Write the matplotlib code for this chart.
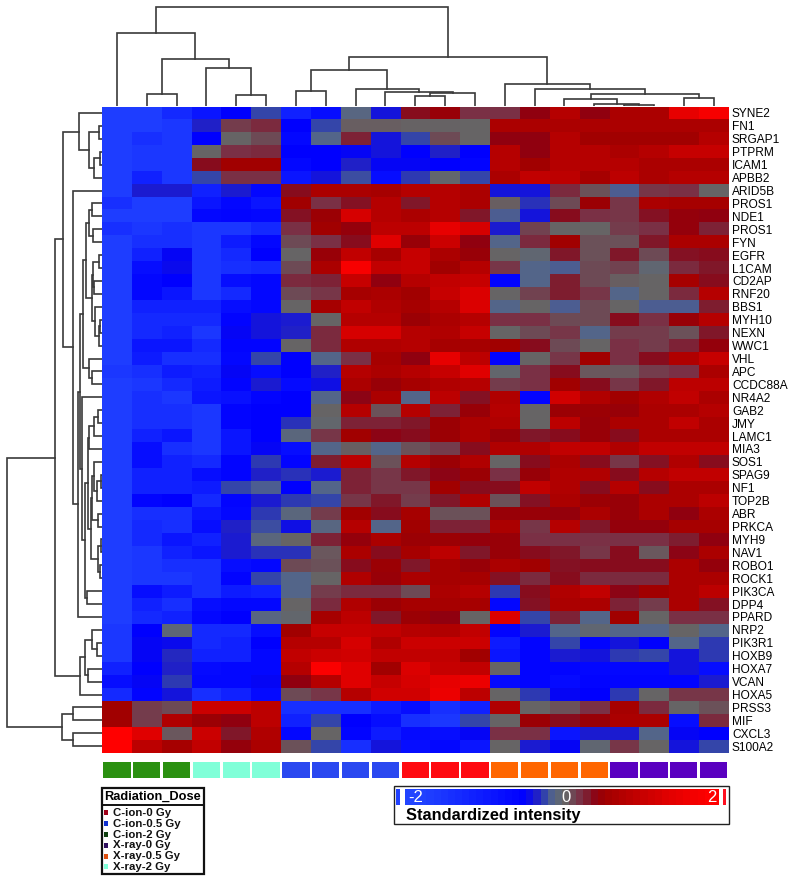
import numpy as np
import matplotlib
matplotlib.use('Agg')
import matplotlib.pyplot as plt
from matplotlib.colors import LinearSegmentedColormap
from matplotlib.patches import Rectangle

plt.rcParams['font.family'] = ['Liberation Sans', 'DejaVu Sans']

genes = ['SYNE2', 'FN1', 'SRGAP1', 'PTPRM', 'ICAM1', 'APBB2', 'ARID5B', 'PROS1', 'NDE1', 'PROS1',
         'FYN', 'EGFR', 'L1CAM', 'CD2AP', 'RNF20', 'BBS1', 'MYH10', 'NEXN', 'WWC1', 'VHL',
         'APC', 'CCDC88A', 'NR4A2', 'GAB2', 'JMY', 'LAMC1', 'MIA3', 'SOS1', 'SPAG9', 'NF1',
         'TOP2B', 'ABR', 'PRKCA', 'MYH9', 'NAV1', 'ROBO1', 'ROCK1', 'PIK3CA', 'DPP4', 'PPARD',
         'NRP2', 'PIK3R1', 'HOXB9', 'HOXA7', 'VCAN', 'HOXA5', 'PRSS3', 'MIF', 'CXCL3', 'S100A2']

# Dose group of each column, left to right.
col_groups = ['C-ion-2 Gy'] * 3 + ['X-ray-2 Gy'] * 3 + ['C-ion-0.5 Gy'] * 4 + \
             ['C-ion-0 Gy'] * 3 + ['X-ray-0.5 Gy'] * 4 + ['X-ray-0 Gy'] * 4

strip_colors = {'C-ion-0 Gy': '#ff0a10', 'C-ion-0.5 Gy': '#2a48f0', 'C-ion-2 Gy': '#2a9010',
                'X-ray-0 Gy': '#5a00c0', 'X-ray-0.5 Gy': '#ff6600', 'X-ray-2 Gy': '#80ffd8'}

legend_names = ['C-ion-0 Gy', 'C-ion-0.5 Gy', 'C-ion-2 Gy', 'X-ray-0 Gy', 'X-ray-0.5 Gy', 'X-ray-2 Gy']
legend_dots = ['#a00018', '#1030d0', '#104010', '#301060', '#e05010', '#80ffd8']

# Values, one row per gene.
intensity = [
    [-1.9, -1.9, -1.6, -1.3, -1.0, -0.5, -1.5, -1.2, -0.25, -0.8, 0.7, 0.9, 0.4, 0.4, 0.8, 1.2, 0.8, 1.1, 1.1, 1.7, 1.9],
    [-1.9, -1.9, -1.8, -0.7, 0.3, 0.45, -1.0, -0.5, 0.05, 0.05, 0.02, 0.02, 0.0, 1.1, 1.1, 1.1, 1.1, 1.1, 1.1, 1.1, 1.1],
    [-1.9, -1.7, -1.8, -1.0, 0.0, 0.2, -1.1, -0.3, 0.5, -0.8, -0.5, 0.2, 0.0, 0.8, 0.8, 1.2, 1.0, 1.0, 1.0, 1.0, 1.2],
    [-1.9, -1.8, -1.8, 0.0, 0.4, 0.45, -1.0, -1.0, -0.95, -0.8, -1.0, -0.7, -1.0, 1.2, 0.8, 1.2, 1.2, 1.1, 1.2, 1.35, 1.35],
    [-1.9, -1.8, -1.8, 0.7, 1.0, 1.0, -1.1, -1.0, -0.7, -0.95, -0.95, -1.0, -1.05, 1.2, 1.0, 1.2, 1.2, 1.2, 1.1, 1.1, 1.1],
    [-1.9, -1.5, -1.8, -0.5, 0.4, 0.4, -1.3, -0.8, -0.45, -1.2, -0.55, -0.05, -0.5, 1.1, 1.3, 1.25, 1.05, 1.25, 1.1, 1.2, 1.2],
    [-1.9, -0.75, -0.75, -1.5, -0.75, -1.1, 0.7, 1.1, 1.1, 1.05, 1.2, 1.2, 1.1, -0.8, -0.8, 0.45, 0.15, -0.35, 0.35, 0.4, 0.0],
    [-1.7, -1.9, -1.9, -1.3, -1.1, -1.3, 1.0, 0.4, 0.65, 1.2, 0.6, 1.2, 1.1, 0.05, -0.6, 0.2, 0.95, 0.35, 1.1, 1.05, 1.05],
    [-1.9, -1.9, -1.9, -1.1, -1.05, -1.1, 0.65, 0.95, 1.5, 1.2, 1.1, 1.2, 0.6, -0.35, -0.8, 0.7, 0.4, 0.35, 0.65, 0.85, 0.8],
    [-1.7, -1.8, -1.7, -1.8, -1.8, -1.6, 0.4, 1.0, 0.85, 1.25, 1.25, 1.7, 1.5, -0.75, 0.25, 0.0, 0.0, 0.3, 0.4, 0.85, 0.5],
    [-1.9, -1.7, -1.7, -1.8, -1.4, -1.1, 0.2, 0.4, 0.7, 1.6, 0.9, 1.4, 0.8, -0.3, 0.45, 1.0, 0.15, 0.15, 0.6, 1.1, 1.1],
    [-1.9, -1.5, -0.95, -1.8, -1.6, -1.0, 0.0, 0.9, 1.3, 1.05, 1.35, 1.1, 0.9, 0.0, -0.1, 0.6, 0.15, 0.6, 0.2, 0.65, 0.7],
    [-1.9, -1.2, -0.9, -1.8, -1.7, -1.6, 0.2, 1.1, 1.9, 1.3, 1.35, 1.0, 1.2, 0.35, -0.3, -0.35, 0.2, 0.25, -0.1, 0.45, 0.6],
    [-1.9, -1.1, -1.0, -1.8, -1.2, -1.1, 0.45, 0.5, 1.35, 0.8, 1.2, 1.3, 1.35, -1.05, -0.3, 0.55, 0.2, 0.05, 0.0, 1.05, 0.7],
    [-1.9, -1.1, -1.3, -1.8, -1.6, -1.1, 0.2, 0.35, 1.05, 1.1, 1.0, 1.35, 1.55, 0.0, 0.25, 0.55, 0.35, -0.3, 0.0, 0.45, 1.2],
    [-1.9, -1.5, -1.5, -1.5, -1.2, -1.1, 0.0, 1.05, 1.3, 1.15, 1.05, 1.2, 1.55, -0.3, 0.0, -0.35, 0.2, 0.0, -0.35, -0.35, 0.55],
    [-1.9, -1.6, -1.6, -1.6, -1.05, -0.8, -0.75, 0.0, 1.2, 1.2, 0.95, 1.1, 1.2, 0.4, 0.4, 0.2, 0.2, 0.7, 0.4, 0.9, 1.2],
    [-1.9, -1.6, -1.5, -1.8, -0.95, -0.8, -0.7, 0.45, 1.5, 1.5, 1.2, 1.15, 1.35, 0.0, 0.2, 0.35, -0.3, 0.3, 0.3, 0.15, 0.6],
    [-1.9, -1.3, -1.3, -1.6, -1.05, -1.05, 0.0, 0.45, 1.15, 1.15, 1.2, 1.05, 1.05, 1.0, 0.7, 0.2, 0.0, 0.4, 0.3, 0.5, 0.85],
    [-1.9, -1.4, -1.7, -1.7, -1.1, -0.5, -1.0, -0.3, 0.4, 1.05, 0.8, 1.7, 1.25, -1.05, 0.0, 0.35, 1.0, 0.4, 0.7, 1.15, 1.35],
    [-1.8, -1.7, -1.4, -1.5, -0.95, -1.2, -1.0, -0.7, 1.2, 1.1, 1.2, 1.35, 1.6, -0.05, 0.4, 0.7, 0.1, 0.1, 0.3, 0.4, 1.1],
    [-1.9, -1.8, -1.6, -1.4, -1.05, -0.75, -1.15, -0.85, 1.1, 0.9, 1.05, 1.15, 1.2, 0.3, 0.4, 1.0, 0.7, 0.35, 0.6, 1.25, 1.25],
    [-1.9, -1.7, -1.8, -1.3, -1.25, -1.05, -1.0, -0.3, 0.75, 1.1, -0.3, 1.25, 0.65, 1.15, -1.05, 1.45, 1.15, 1.0, 1.15, 1.3, 1.1],
    [-1.9, -1.7, -1.7, -1.8, -1.05, -1.0, -1.0, 0.0, 1.2, 0.15, 1.2, 0.5, 0.9, 1.2, 0.0, 0.95, 0.95, 0.9, 1.1, 1.1, 1.2],
    [-1.9, -1.7, -1.7, -1.8, -1.05, -1.0, -0.6, -0.05, 0.5, 0.5, 0.6, 0.95, 1.1, 1.15, 0.0, 1.25, 0.9, 1.1, 1.1, 1.3, 1.1],
    [-1.9, -1.5, -1.3, -1.8, -1.3, -1.0, -0.2, 0.35, 1.0, 0.75, 0.7, 0.95, 1.1, 0.9, 0.6, 0.7, 0.9, 0.7, 1.1, 1.1, 1.1],
    [-1.9, -1.2, -1.7, -1.8, -1.3, -0.95, -1.2, -0.3, 0.05, -0.3, 0.15, 0.3, 0.7, 1.15, 1.15, 1.3, 1.3, 1.15, 1.3, 1.3, 1.3],
    [-1.9, -1.2, -1.5, -1.6, -1.05, -0.55, -1.05, 0.55, 1.25, 0.15, 1.2, 0.95, 1.15, 0.0, 0.7, 1.1, 0.7, 0.35, 0.65, 1.15, 0.7],
    [-1.9, -1.5, -1.5, -1.2, -1.05, -0.7, -0.6, -0.75, 0.5, 0.35, 0.6, 0.75, 0.95, 0.4, 0.9, 1.15, 1.15, 0.7, 1.2, 1.3, 1.3],
    [-1.9, -1.5, -1.5, -1.4, -0.5, -0.35, -1.0, -0.3, 0.5, 0.35, 0.35, 1.0, 0.7, 0.7, 1.3, 1.15, 0.7, 1.2, 0.7, 1.1, 1.1],
    [-1.9, -1.05, -1.0, -1.6, -1.05, -0.75, -0.55, -0.5, 0.35, 0.6, 0.3, 0.6, 1.15, 0.15, 0.65, 1.1, 0.95, 0.9, 1.1, 1.1, 1.25],
    [-1.9, -1.7, -1.7, -1.3, -1.1, -0.55, -0.2, 0.3, 1.0, 0.7, 1.05, 0.15, 0.15, 0.9, 0.9, 0.85, 1.1, 0.9, 1.1, 0.8, 1.1],
    [-1.9, -1.6, -1.7, -1.2, -0.7, -0.45, -0.85, -0.25, 1.2, -0.3, 1.0, 0.5, 0.5, 1.1, 0.35, 1.2, 0.6, 0.85, 0.85, 1.05, 1.05],
    [-1.9, -1.6, -1.3, -1.5, -0.75, -0.2, 0.0, 0.5, 0.85, 1.1, 0.95, 0.95, 0.85, 0.9, 0.4, 0.4, 0.4, 0.4, 0.4, 0.55, 0.8],
    [-1.9, -1.8, -1.5, -1.3, -0.75, -0.6, -0.6, 0.1, 1.1, 0.7, 1.05, 1.25, 0.6, 0.9, 0.7, 0.6, 0.35, 0.7, 0.1, 0.75, 1.1],
    [-1.9, -1.8, -1.7, -1.7, -1.2, -1.1, 0.2, 0.15, 0.7, 0.95, 0.6, 1.05, 0.9, 1.1, 1.0, 0.65, 0.7, 0.7, 0.7, 1.1, 0.85],
    [-1.9, -1.8, -1.8, -1.7, -1.05, -0.5, -0.3, 0.0, 1.15, 0.9, 1.1, 1.05, 1.05, 0.65, 0.45, 0.7, 0.45, 0.45, 0.45, 1.1, 1.1],
    [-1.9, -1.2, -1.4, -1.7, -1.4, -1.5, -0.3, 0.3, 0.45, 0.45, 0.2, 1.1, 1.2, -0.55, 0.7, 1.15, 1.3, 0.75, 1.0, 1.1, 1.25],
    [-1.9, -1.5, -1.7, -1.2, -1.1, -1.1, 0.0, 0.45, 1.15, 0.95, 1.05, 1.05, 1.05, -1.1, 0.65, 1.1, 1.1, 0.5, 0.3, 1.1, 0.65],
    [-1.9, -1.6, -1.5, -1.1, -1.0, -0.25, -0.05, 1.05, 1.25, 0.6, 0.95, 0.8, 0.0, 1.55, -0.5, 0.5, -0.3, 1.0, 0.0, 0.4, 0.4],
    [-1.8, -1.0, -0.15, -1.6, -1.6, -1.2, 1.0, 1.35, 1.35, 1.3, 1.2, 1.15, 1.3, -1.05, -0.75, -0.3, -0.1, -0.3, -0.3, 0.0, -0.3],
    [-1.8, -0.95, -0.9, -1.6, -1.5, -1.0, 1.2, 1.2, 1.5, 1.15, 1.4, 1.4, 1.4, -1.4, -1.05, -0.5, -1.05, -0.8, -1.0, -0.3, -0.55],
    [-1.8, -0.95, -0.65, -1.5, -1.5, -1.1, 1.3, 1.4, 1.45, 1.3, 1.3, 1.3, 1.0, -1.3, -1.05, -0.75, -0.8, -0.55, -0.5, -0.8, -0.55],
    [-1.5, -1.0, -0.7, -1.15, -1.1, -1.1, 1.2, 1.95, 1.6, 1.0, 1.55, 1.35, 1.3, 0.0, -1.05, -1.05, -1.1, -1.1, -1.1, -0.8, -1.2],
    [-1.2, -0.95, -0.55, -1.1, -1.1, -0.95, 0.8, 1.2, 1.6, 1.35, 1.5, 1.7, 1.75, -1.15, -1.05, -1.15, -1.05, -1.05, -1.05, -1.05, -0.75],
    [-1.6, -1.05, -0.8, -1.7, -1.5, -1.15, 0.2, 0.35, 1.2, 1.45, 1.45, 1.75, 1.25, 0.0, -0.55, -0.95, -1.0, -0.55, 0.0, 0.35, 0.35],
    [1.0, 0.3, 0.2, 1.4, 1.4, 1.25, -1.7, -1.7, -1.7, -1.4, -1.2, -1.7, -1.5, 1.15, 0.0, 0.15, 0.4, 1.05, 0.45, 0.0, 0.15],
    [1.0, 0.3, 1.15, 0.95, 0.8, 1.25, -1.5, -0.5, -1.0, -1.2, -1.7, -1.8, -0.5, 0.0, 0.95, 0.7, 0.9, 1.1, 1.1, -1.2, 0.45],
    [2.0, 1.6, 0.1, 1.4, 0.6, 1.15, -1.1, 0.0, -1.05, -1.4, -1.15, -1.2, -0.95, 0.4, 0.4, -1.3, -0.75, -0.75, -0.3, -0.95, -1.0],
    [2.0, 1.25, 1.05, 1.3, 0.85, 1.1, 0.15, -0.5, -1.7, -0.8, -1.2, -1.1, -1.3, 0.0, -0.75, -0.95, -0.1, 0.35, 0.0, -0.8, -0.5],
]

# Clustering trees: (merge height, first child, second child), ints are leaves.
col_tree = (99,
            (73.8, 0, (47.2, (12.2, 1, 2), (38.5, 3, (11.5, 4, 5)))),
            (49.8,
             (36.8, (15.8, 6, 7),
              (17.8, 8, (14.5, 9, (13.8, (10.5, 10, 11), 12)))),
             (22.5, 13,
              (17.2, 14,
               (12.5, (7.2, 15, (2.8, 16, (1.8, 17, 18))), (8.2, 19, 20))))))

rows_a = (23, 0, (13, (3.3, 1, 2), (7.7, (2, 3, 4), 5)))
rows_g = (18.7,
          (16,
           (12.7, (9.7, 7, 8), (8.7, 9, 10)),
           (10.3,
            (8.7, (3, 11, 12), (8, 13, 14)),
            (7, 15, (3.3, (1.7, 16, 17), 18)))),
          (12.7, 19, (9.7, 20, 21)))
rows_k = (12.7, (7.7, (4.3, 23, 24), 25), 26)
rows_r = (9.7, (8, 27, (5.3, (1, 28, 29), 30)), (3.7, 31, 32))
rows_s = (3.7, (1, 33, 34), (2, 35, 36))
rows_i = (17, (13.7, rows_k, (11.3, rows_r, rows_s)), (14.7, 37, 38))
rows_f = (22, rows_g, (20.3, 22, rows_i))
rows_d = (28.7, 6, (24, rows_f, 39))
rows_c = (22, (17, (10.3, 40, (5.3, 41, 42)), (14.3, 43, 44)), 45)
row_tree = (95.3,
            (47, (38.7, rows_a, rows_d), rows_c),
            (40.3, (28.7, 46, 47), (28.7, 48, 49)))

W, H = 793, 880
map_left, map_right, map_top, map_bottom = 102, 728.5, 106.5, 752.7
line_col = '#3a3a3a'


# Axes from pixel box measured on the picture (y from the top).
def px_axes(fig, x0, y0, x1, y1):
    return fig.add_axes([x0 / W, 1 - y1 / H, (x1 - x0) / W, (y1 - y0) / H])


# Walks the tree and draws the brackets, returns leaf position and height.
def draw_tree(ax, node, vertical):
    if isinstance(node, int):
        return node + 0.5, 0
    h, a, b = node
    pa, ha = draw_tree(ax, a, vertical)
    pb, hb = draw_tree(ax, b, vertical)
    pos = [pa, pa, pb, pb]
    hts = [ha, h, h, hb]
    if vertical:
        ax.plot(pos, hts, color=line_col, lw=1.2, solid_joinstyle='miter')
    else:
        ax.plot(hts, pos, color=line_col, lw=1.2, solid_joinstyle='miter')
    return (pa + pb) / 2, h


fig = plt.figure(figsize=(W / 100, H / 100), dpi=100)

# Colour scale: light blue at the low end, grey middle, red at the top.
cmap = LinearSegmentedColormap.from_list('intensity', [
    (0.0, '#2244ff'), (0.25, '#0000ff'), (0.325, '#2020c8'), (0.375, '#3344aa'), (0.425, '#556688'),
    (0.5, '#666666'), (0.55, '#6e4a55'), (0.6, '#7a3045'), (0.65, '#80182a'), (0.7, '#900010'),
    (0.75, '#a00000'), (0.825, '#c00000'), (0.9, '#e00000'), (1.0, '#ff0000')])

# Main heatmap
ax_map = px_axes(fig, map_left, map_top, map_right, map_bottom)
ax_map.imshow(np.array(intensity), cmap=cmap, vmin=-2, vmax=2, aspect='auto',
              interpolation='nearest', extent=[0, 21, 50, 0])
ax_map.set_xticks([])
ax_map.yaxis.tick_right()
ax_map.set_yticks(np.arange(len(genes)) + 0.5)
ax_map.set_yticklabels(genes, fontsize=8.6)
ax_map.tick_params(axis='y', length=0, pad=2.5)
for s in ax_map.spines.values():
    s.set_visible(False)

# Dendrograms
ax_top = px_axes(fig, map_left, 0, map_right, map_top)
ax_top.set_xlim(0, 21)
ax_top.set_ylim(0, map_top)
draw_tree(ax_top, col_tree, True)
ax_top.axis('off')

ax_left = px_axes(fig, 0, map_top, map_left, map_bottom)
ax_left.set_xlim(map_left, 0)
ax_left.set_ylim(50, 0)
draw_tree(ax_left, row_tree, False)
ax_left.axis('off')

# Dose strip under the heatmap
ax_strip = px_axes(fig, map_left, 762, map_right, 778)
ax_strip.bar(np.arange(21) + 0.5, 1, width=0.92, color=[strip_colors[g] for g in col_groups])
ax_strip.set_xlim(0, 21)
ax_strip.set_ylim(0, 1)
ax_strip.axis('off')

# Overlay in pixel units for the two legend boxes
ov = fig.add_axes([0, 0, 1, 1], zorder=5)
ov.set_xlim(0, W)
ov.set_ylim(H, 0)
ov.axis('off')

ov.add_patch(Rectangle((101.5, 788), 102.5, 86, fill=False, ec='#111111', lw=1.6))
ov.plot([101.5, 204], [805, 805], color='#111111', lw=1.4)
ov.text(152.7, 796.5, 'Radiation_Dose', fontsize=9.2, fontweight='bold', ha='center', va='center')
for i, name in enumerate(legend_names):
    y = 813 + i * 10.8
    ov.add_patch(Rectangle((103.8, y - 2.5), 4, 5, fc=legend_dots[i], ec='none'))
    ov.text(112.7, y, name, fontsize=8.2, fontweight='bold', ha='left', va='center', color='#111111')

# Standardized intensity key
ov.add_patch(Rectangle((394, 785.7), 335, 38.3, fill=False, ec='#222222', lw=1.0))
ax_bar = px_axes(fig, 404.7, 789.3, 718, 805)
ax_bar.set_zorder(6)
# The key is stretched: its blue ends near -0.55 and dark red starts near 0.55.
bar_steps = np.interp(np.linspace(-2.15, 2.08, 44), [-2, -0.55, 0, 0.55, 2], [-2, -1, 0, 1, 2])
ax_bar.imshow(bar_steps[np.newaxis, :], cmap=cmap, vmin=-2, vmax=2, aspect='auto', interpolation='nearest')
ax_bar.axis('off')
ov.add_patch(Rectangle((396, 789.3), 4, 15.7, fc='#2040ff', ec='none'))
ov.add_patch(Rectangle((723, 789.3), 3, 15.7, fc='#ff1020', ec='none'))
ov.set_zorder(7)
ov.text(416, 797.5, '-2', color='white', fontsize=12, ha='center', va='center')
ov.text(566, 797.5, '0', color='white', fontsize=12, ha='center', va='center')
ov.text(712, 797.5, '2', color='white', fontsize=12, ha='center', va='center')
ov.text(406, 815.7, 'Standardized intensity', fontsize=11.8, fontweight='bold', ha='left', va='center')

fig.savefig('out.png', dpi=100, facecolor='white')
plt.close(fig)
